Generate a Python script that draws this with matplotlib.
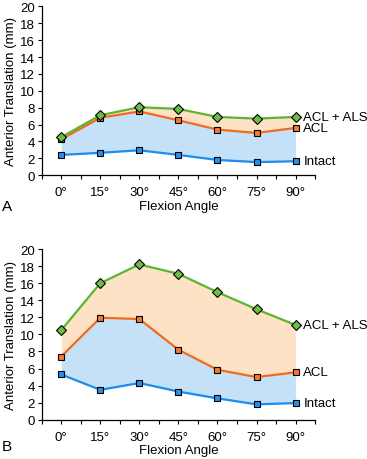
import numpy as np
import matplotlib
matplotlib.use('Agg')
import matplotlib.pyplot as plt

# flexion angles (deg) and tick labels
angles = [0, 15, 30, 45, 60, 75, 90]
angle_labels = ['0°', '15°', '30°', '45°', '60°', '75°', '90°']

# panel A
intact_a = [2.4, 2.65, 2.95, 2.4, 1.8, 1.55, 1.65]
acl_a = [4.25, 6.8, 7.55, 6.5, 5.4, 5.0, 5.6]
aclals_a = [4.5, 7.1, 8.05, 7.85, 6.9, 6.7, 6.9]

# panel B
intact_b = [5.3, 3.5, 4.3, 3.3, 2.5, 1.8, 1.95]
acl_b = [7.4, 11.95, 11.8, 8.2, 5.85, 5.0, 5.55]
aclals_b = [10.5, 16.0, 18.2, 17.1, 14.95, 12.95, 11.1]

series_names = ['Intact', 'ACL', 'ACL + ALS']

plt.rcParams['font.family'] = ['Liberation Sans', 'DejaVu Sans']
plt.rcParams['font.size'] = 9.5

fig = plt.figure(figsize=(3.67, 4.6), dpi=100)
ax_a = fig.add_axes([0.1136, 0.617, 0.745, 0.367])
ax_b = fig.add_axes([0.1136, 0.0854, 0.745, 0.371])

blue = '#1b8cf0'
orange = '#f26a1f'
green = '#5cb531'


def draw(ax, intact, acl, aclals):
    ax.fill_between(angles, intact, acl, color='#c4e1f8', lw=0, zorder=1)
    ax.fill_between(angles, acl, aclals, color='#fde2c6', lw=0, zorder=1)
    ax.plot(angles, intact, color=blue, lw=1.6, marker='s', ms=4.4,
            mfc='#2b8fe6', mec='black', mew=0.8, zorder=3)
    ax.plot(angles, acl, color=orange, lw=1.6, marker='s', ms=4.4,
            mfc='#f47a30', mec='black', mew=0.8, zorder=3)
    ax.plot(angles, aclals, color=green, lw=1.6, marker='D', ms=4.6,
            mfc='#6cbf44', mec='black', mew=0.8, zorder=4)

    # series labels at the right end
    ax.text(93, aclals[-1], series_names[2], va='center', ha='left')
    ax.text(93, acl[-1], series_names[1], va='center', ha='left')
    ax.text(93, intact[-1], series_names[0], va='center', ha='left')

    ax.set_xlim(-7.5, 97.5)
    ax.set_ylim(0, 20)
    ax.set_yticks(np.arange(0, 21, 2))
    ax.set_xticks(angles)
    ax.set_xticklabels(angle_labels)
    ax.set_xticks(np.arange(-7.5, 98, 7.5), minor=True)
    ax.tick_params(axis='both', which='both', direction='out', length=3,
                   width=0.8, pad=2)
    ax.tick_params(axis='x', which='major', pad=5)
    for s in ['top', 'right']:
        ax.spines[s].set_visible(False)
    for s in ['left', 'bottom']:
        ax.spines[s].set_linewidth(0.9)
    ax.set_xlabel('Flexion Angle', labelpad=1)
    ax.set_ylabel('Anterior Translation (mm)', labelpad=2)
    for child in ax.get_children():
        if hasattr(child, 'set_clip_on'):
            child.set_clip_on(False)


draw(ax_a, intact_a, acl_a, aclals_a)
draw(ax_b, intact_b, acl_b, aclals_b)

fig.text(0.005, 1 - 207 / 460, 'A', fontsize=11, ha='left', va='center')
fig.text(0.005, 1 - 447 / 460, 'B', fontsize=11, ha='left', va='center')

fig.savefig('out.png', dpi=100)
